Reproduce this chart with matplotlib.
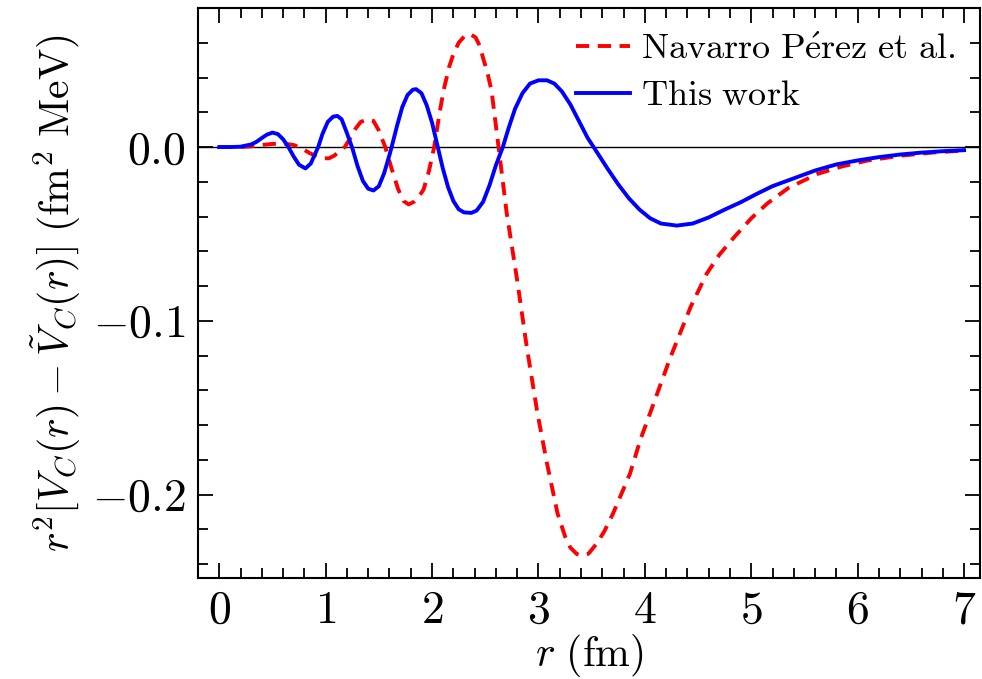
import numpy as np
import matplotlib
matplotlib.use('Agg')
import matplotlib.pyplot as plt
from matplotlib.ticker import MultipleLocator

# r (fm) and r^2 [V_C - V~_C] (fm^2 MeV)
r_this = [0.00, 0.10, 0.20, 0.30, 0.35, 0.40, 0.45, 0.50, 0.55, 0.60, 0.65, 0.70,
          0.75, 0.81, 0.86, 0.90, 0.93, 0.97, 1.02, 1.07, 1.11, 1.15, 1.20, 1.25,
          1.30, 1.35, 1.40, 1.45, 1.50, 1.55, 1.60, 1.62, 1.67, 1.72, 1.77, 1.82,
          1.85, 1.90, 1.95, 2.00, 2.05, 2.10, 2.15, 2.20, 2.25, 2.30, 2.37, 2.42,
          2.48, 2.54, 2.60, 2.665, 2.72, 2.78, 2.85, 2.92, 3.00, 3.08, 3.15, 3.22,
          3.30, 3.38, 3.46, 3.55, 3.65, 3.75, 3.85, 3.95, 4.05, 4.15, 4.30, 4.45,
          4.60, 4.75, 4.90, 5.05, 5.20, 5.40, 5.60, 5.80, 6.00, 6.20, 6.40, 6.60,
          6.80, 7.00]
v_this = [0.0, 0.0, 0.0002, 0.0015, 0.0030, 0.0052, 0.0072, 0.0083, 0.0075, 0.0045,
          0.0000, -0.0055, -0.0102, -0.0123, -0.0095, -0.0040, 0.0000, 0.0075, 0.0145,
          0.0175, 0.0179, 0.0160, 0.0080, -0.0005, -0.0110, -0.0195, -0.0240, -0.0250,
          -0.0225, -0.0150, -0.0045, 0.0000, 0.0120, 0.0230, 0.0300, 0.0330, 0.0333,
          0.0310, 0.0240, 0.0140, 0.0010, -0.0120, -0.0230, -0.0310, -0.0358, -0.0376,
          -0.0379, -0.0365, -0.0315, -0.0220, -0.0105, 0.0000, 0.0110, 0.0220, 0.0310,
          0.0365, 0.0384, 0.0384, 0.0365, 0.0320, 0.0245, 0.0150, 0.0055, -0.0030,
          -0.0125, -0.0215, -0.0295, -0.0360, -0.0410, -0.0440, -0.0452, -0.0440,
          -0.0405, -0.0360, -0.0318, -0.0270, -0.0225, -0.0180, -0.0135, -0.0100,
          -0.0077, -0.0058, -0.0043, -0.0032, -0.0024, -0.0018]

r_nav = [0.00, 0.20, 0.30, 0.40, 0.50, 0.60, 0.70, 0.78, 0.85, 0.92, 0.97, 1.03,
         1.08, 1.13, 1.18, 1.23, 1.28, 1.33, 1.40, 1.45, 1.50, 1.56, 1.62, 1.68,
         1.73, 1.78, 1.83, 1.87, 1.92, 1.97, 2.02, 2.07, 2.11, 2.16, 2.20, 2.25,
         2.30, 2.36, 2.41, 2.45, 2.48, 2.52, 2.56, 2.625, 2.70, 2.75, 2.80, 2.89,
         2.99, 3.08, 3.18, 3.25, 3.30, 3.36, 3.41, 3.47, 3.55, 3.62, 3.70, 3.86,
         3.96, 4.05, 4.24, 4.43, 4.58, 4.70, 4.83, 5.00, 5.15, 5.35, 5.62, 5.85,
         6.09, 6.40, 6.70, 7.00]
v_nav = [0.0, 0.0, 0.0004, 0.0012, 0.0018, 0.0020, 0.0012, -0.0010, -0.0035, -0.0055,
         -0.0064, -0.0065, -0.0050, -0.0025, 0.0000, 0.0050, 0.0105, 0.0145, 0.0160,
         0.0150, 0.0095, 0.0000, -0.0125, -0.0240, -0.0310, -0.0330, -0.0315, -0.0290,
         -0.0245, -0.0140, 0.0000, 0.0195, 0.0330, 0.0460, 0.0534, 0.0600, 0.0635,
         0.0650, 0.0630, 0.0580, 0.0511, 0.0430, 0.0320, 0.0000, -0.0373, -0.0570,
         -0.0767, -0.1150, -0.1530, -0.1820, -0.2110, -0.2240, -0.2305, -0.2342,
         -0.2350, -0.2340, -0.2280, -0.2210, -0.2110, -0.1880, -0.1680, -0.1530,
         -0.1210, -0.0920, -0.0730, -0.0620, -0.0525, -0.0410, -0.0325, -0.0235,
         -0.0155, -0.0112, -0.0078, -0.0050, -0.0032, -0.0020]

plt.rcParams['font.family'] = 'serif'
plt.rcParams['font.serif'] = ['cmr10', 'DejaVu Serif']
plt.rcParams['mathtext.fontset'] = 'cm'
plt.rcParams['axes.formatter.use_mathtext'] = True

fig = plt.figure(figsize=(9.82, 6.79), dpi=100)
ax = fig.add_axes([0.2016, 0.1487, 0.7964, 0.8395])

ax.axhline(0, color='black', lw=1.0, zorder=1)
ax.plot(r_nav, v_nav, color='red', lw=2.8, ls=(0, (3.4, 2.2)),
        label=r'$\mathrm{Navarro\ P\acute{e}rez\ et\ al.}$')
ax.plot(r_this, v_this, color='blue', lw=2.8, label=r'$\mathrm{This\ work}$')

ax.set_xlim(-0.2, 7.15)
ax.set_ylim(-0.248, 0.08)
ax.xaxis.set_major_locator(MultipleLocator(1))
ax.xaxis.set_minor_locator(MultipleLocator(0.2))
ax.yaxis.set_major_locator(MultipleLocator(0.1))
ax.yaxis.set_minor_locator(MultipleLocator(0.02))
ax.tick_params(which='both', direction='in', top=True, right=True, width=1.3)
ax.tick_params(which='major', length=11, labelsize=33, pad=9)
ax.tick_params(which='minor', length=7)
for s in ax.spines.values():
    s.set_linewidth(1.5)

ax.set_xlabel(r'$r\ (\mathrm{fm})$', fontsize=30, labelpad=0)
ax.set_ylabel(r'$r^2[V_C(r)-\tilde{V}_C(r)]\ (\mathrm{fm}^2\ \mathrm{MeV})$', fontsize=30,
              labelpad=6)

ax.legend(loc='upper right', frameon=False, fontsize=26, handlelength=1.5,
          handletextpad=0.3, labelspacing=0.4, borderaxespad=0.3)

fig.savefig('out.png', dpi=100)
